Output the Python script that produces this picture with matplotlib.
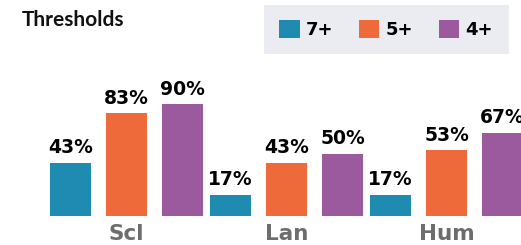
import numpy as np
import matplotlib.pyplot as plt
from matplotlib.patches import Patch

# Dados
categorias = ['Scl', 'Lan', 'Hum']
series = ['7+', '5+', '4+']
v7 = [43, 17, 17]
v5 = [83, 43, 53]
v4 = [90, 50, 67]

cores = ['#1f8bb0', '#ef6a3a', '#9b599e']

fig = plt.figure(figsize=(5.21, 2.45), dpi=100)
ax = fig.add_axes([0, 29 / 245, 1, 156 / 245])

x = np.arange(len(categorias))
largura = 0.26
offsets = [-0.35, 0, 0.35]

for vals, cor, off in zip([v7, v5, v4], cores, offsets):
    barras = ax.bar(x + off, vals, width=largura, color=cor)
    for b, v in zip(barras, vals):
        ax.annotate(f'{v}%', (b.get_x() + b.get_width() / 2, b.get_height()),
                    xytext=(0, 4), textcoords='offset points', ha='center', va='bottom',
                    fontsize=13.5, fontweight='bold', color='black', annotation_clip=False)

ax.set_xlim(-126.5 / 160, (521 - 126.5) / 160)
ax.set_ylim(0, 156 / 1.24)
ax.set_xticks(x)
ax.set_xticklabels(categorias, fontsize=15.5, fontweight='bold', color='#6d6d6d')
ax.tick_params(axis='x', length=0, pad=6)
ax.set_yticks([])
for s in ax.spines.values():
    s.set_visible(False)

# Titulo
fig.text(22 / 521, 1 - 20 / 245, 'Thresholds', family='Lato', fontweight='bold',
         fontsize=15, va='center', ha='left', color='#111111')

# Legenda
handles = [Patch(facecolor=c, edgecolor='none', label=s) for c, s in zip(cores, series)]
leg = fig.legend(handles=handles, ncol=3, loc='center', bbox_to_anchor=(386 / 521, 1 - 29.5 / 245),
                 frameon=True, fancybox=False, facecolor='#ebebf2', edgecolor='none', framealpha=1,
                 prop={'size': 13, 'weight': 'bold'}, handlelength=1.15, handleheight=1.15,
                 handletextpad=0.35, columnspacing=1.4, borderpad=0.85)

plt.savefig('out.png', dpi=100)
